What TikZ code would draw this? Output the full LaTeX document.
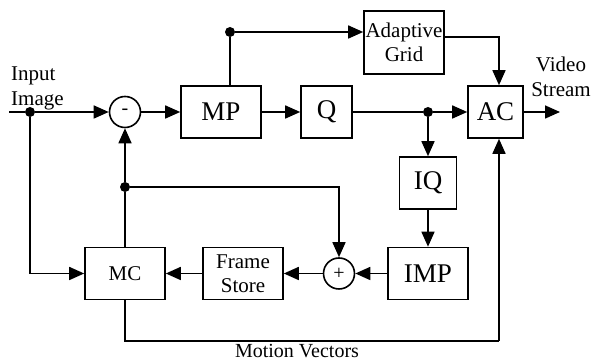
\documentclass[tikz,border=0pt]{standalone}
\usepackage{fontspec}
\setmainfont{Liberation Serif}
\usetikzlibrary{
    positioning,
    arrows.meta,
    calc,
}
\tikzset{
    % Block styles
    block/.style={rectangle, draw, line width=1.6pt, minimum width=80pt,
                  minimum height=52pt, align=center, inner sep=0pt,
                  font=\fontsize{27}{30}\selectfont},
    small block/.style={block, font=\fontsize{21}{24}\selectfont},
    % Junction styles
    sum/.style={circle, draw, line width=1.6pt, minimum size=31pt, inner sep=0pt,
                font=\fontsize{20}{20}\selectfont},
    dot/.style={circle, fill, minimum size=10pt, inner sep=0pt},
    % Arrow styles
    wire/.style={line width=1.6pt},
    arrow/.style={wire, -{Triangle[length=15pt, width=13pt]}},
    % Annotation styles
    label text/.style={font=\fontsize{21}{25}\selectfont, inner sep=0pt},
}

\begin{document}
\begin{tikzpicture}[x=1pt, y=1pt]
    \useasboundingbox (0,0) rectangle (592,363);

    % Forward path
    \node[sum] (minus) at (125,251) {-};
    \node[block] (mp) at (221,251) {MP};
    \node[block, minimum width=51pt] (q) at (326.5,251) {Q};
    \node[block, minimum width=55pt] (ac) at (495.5,251) {AC};
    \node[small block, minimum height=63pt] (grid) at (404,320.5) {Adaptive\\Grid};

    % Inverse path
    \node[block, minimum width=57pt] (iq) at (428,180) {IQ};
    \node[block] (imp) at (428,89.5) {IMP};
    \node[sum] (plus) at (339,89.5) {+};
    \node[small block] (store) at (243,89.5) {Frame\\Store};
    \node[small block] (mc) at (125,89.5) {MC};

    % Junctions
    \node[dot] (indot) at (30,251) {};
    \node[dot] (mpdot) at (230,331) {};
    \node[dot] (qdot) at (428,251) {};
    \node[dot] (fbdot) at (125,176) {};
    \coordinate (in) at (9,251);
    \coordinate (out) at (560,251);
    \coordinate (gridout) at (444,326);
    \coordinate (acx) at (499,0);
    \coordinate (mvbend) at (499,22);

    % Labels
    \node[label text, anchor=north west, align=left] (inlabel) at (11,296) {Input\\Image};
    \node[label text, anchor=north, align=center] (outlabel) at (561,306) {Video\\Stream};
    \node[label text, anchor=base, font=\fontsize{20}{24}\selectfont] (mvlabel) at (297,5) {Motion Vectors};

    % Connectors
    \draw[wire] (in) -- (indot);
    \draw[arrow] (indot) -- (minus);
    \draw[arrow] (minus) -- (mp);
    \draw[arrow] (mp) -- (q);
    \draw[wire] (q) -- (qdot);
    \draw[arrow] (qdot) -- (ac);
    \draw[arrow] (ac) -- (out);
    \draw[wire] (mp.north -| mpdot) -- (mpdot);
    \draw[arrow] (mpdot) -- (mpdot -| grid.west);
    \draw[arrow] (gridout) -| (acx |- ac.north);
    \draw[arrow] (qdot) -- (iq);
    \draw[arrow] (iq) -- (imp);
    \draw[arrow] (imp) -- (plus);
    \draw[arrow] (plus) -- (store);
    \draw[arrow] (store) -- (mc);
    \draw[arrow] (indot) |- (mc);
    \draw[wire] (mc) -- (fbdot);
    \draw[arrow] (fbdot) -- (minus);
    \draw[arrow] (fbdot) -| (plus);
    \draw[wire] (mc.south) |- (mvbend);
    \draw[arrow] (mvbend) -- (acx |- ac.south);
\end{tikzpicture}
\end{document}
